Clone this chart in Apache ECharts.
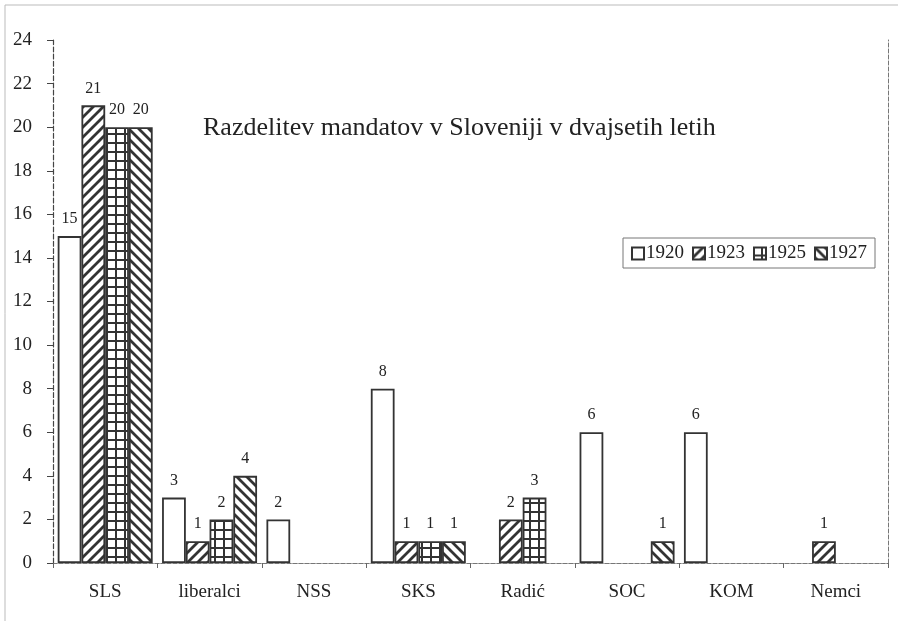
<!DOCTYPE html>
<html>
<head>
<meta charset="utf-8">
<script src="https://cdn.jsdelivr.net/npm/echarts@6/dist/echarts.min.js"></script>
<style>
  html, body { margin: 0; padding: 0; background: #fff; }
  #chart { width: 898px; height: 621px; }
</style>
</head>
<body>
<div id="chart"></div>
<script>
// stranke (kategorije)
const parties = ["SLS", "liberalci", "NSS", "SKS", "Radić", "SOC", "KOM", "Nemci"];
const years = ["1920", "1923", "1925", "1927"];

// mandati po letih
const seats1920 = [15, 3, 2, 8, 0, 6, 6, 0];
const seats1923 = [21, 1, 0, 1, 2, 0, 0, 1];
const seats1925 = [20, 2, 0, 1, 3, 0, 0, 0];
const seats1927 = [20, 4, 0, 1, 0, 1, 0, 0];

const yTicks = [0, 2, 4, 6, 8, 10, 12, 14, 16, 18, 20, 22, 24];

const INK = "#333";
const FONT = "Liberation Serif";

// vzorci za polnilo stolpcev
const makePattern = (kind) => {
  const s = kind === "grid" ? 9 : 10;
  const c = document.createElement("canvas");
  c.width = s;
  c.height = s;
  const ctx = c.getContext("2d");
  ctx.fillStyle = "#fff";
  ctx.fillRect(0, 0, s, s);
  ctx.strokeStyle = INK;
  ctx.lineWidth = 2.8;
  ctx.beginPath();
  if (kind === "slash") {
    ctx.moveTo(-2, s + 2); ctx.lineTo(s + 2, -2);
    ctx.moveTo(-3, 3); ctx.lineTo(3, -3);
    ctx.moveTo(s - 3, s + 3); ctx.lineTo(s + 3, s - 3);
  } else if (kind === "back") {
    ctx.moveTo(-2, -2); ctx.lineTo(s + 2, s + 2);
    ctx.moveTo(s - 3, -3); ctx.lineTo(s + 3, 3);
    ctx.moveTo(-3, s - 3); ctx.lineTo(3, s + 3);
  } else if (kind === "grid") {
    ctx.lineWidth = 2;
    ctx.moveTo(0, s - 1); ctx.lineTo(s, s - 1);
    ctx.moveTo(s - 1, 0); ctx.lineTo(s - 1, s);
  }
  ctx.stroke();
  return { image: c, repeat: "repeat" };
};

const fills = ["#fff", makePattern("slash"), makePattern("grid"), makePattern("back")];
const seriesData = [seats1920, seats1923, seats1925, seats1927];

const chart = echarts.init(document.getElementById("chart"));

const option = {
  backgroundColor: "#fff",
  animation: false,
  textStyle: { fontFamily: FONT, color: "#222" },
  graphic: [
    {
      type: "rect",
      shape: { x: 5, y: 5, width: 900, height: 640 },
      style: { fill: "none", stroke: "#bbb", lineWidth: 1 },
      silent: true,
    },
    {
      type: "text",
      left: 203,
      top: 115,
      style: {
        text: "Razdelitev mandatov v Sloveniji v dvajsetih letih",
        font: "26px 'Liberation Serif'",
        fill: "#222",
      },
    },
  ],
  legend: {
    data: years,
    left: 623,
    top: 238,
    orient: "horizontal",
    icon: "rect",
    itemWidth: 12,
    itemHeight: 12,
    itemGap: 8,
    padding: [6, 8, 5, 8],
    borderColor: "#777",
    borderWidth: 1,
    textStyle: { fontFamily: FONT, fontSize: 19, color: "#222", padding: [0, 0, 0, -3] },
  },
  grid: { left: 53, right: 10, top: 40, bottom: 58 },
  xAxis: [
    {
      type: "category",
      data: parties,
      axisLine: { lineStyle: { color: "#666", type: "dashed", width: 1 } },
      axisTick: { show: true, length: 5, lineStyle: { color: "#666" } },
      axisLabel: { fontFamily: FONT, fontSize: 19, color: "#222", margin: 20 },
    },
    {
      type: "category",
      position: "top",
      data: parties,
      axisLine: { lineStyle: { color: "#777", type: "dashed", width: 1 } },
      axisTick: { show: false },
      axisLabel: { show: false },
    },
  ],
  yAxis: [
    {
      type: "value",
      min: 0,
      max: 24,
      interval: 2,
      axisLine: { show: true, lineStyle: { color: "#444", type: "dashed", width: 1.2 } },
      axisTick: { show: true, length: 6, lineStyle: { color: "#444" } },
      splitLine: { show: false },
      axisLabel: {
        fontFamily: FONT,
        fontSize: 19,
        color: "#222",
        margin: 21,
        formatter: (v) => (yTicks.includes(v) ? String(v) : ""),
      },
    },
    {
      type: "value",
      position: "right",
      min: 0,
      max: 24,
      interval: 2,
      axisLine: { show: true, lineStyle: { color: "#777", type: "dashed", width: 1 } },
      axisTick: { show: false },
      axisLabel: { show: false },
      splitLine: { show: false },
    },
  ],
  series: years.map((y, i) => ({
    name: y,
    type: "bar",
    xAxisIndex: 0,
    yAxisIndex: 0,
    barGap: "0%",
    barCategoryGap: "9%",
    data: seriesData[i].map((v) => (v === 0 ? null : v)),
    itemStyle: { color: fills[i], borderColor: INK, borderWidth: 1.8 },
    label: {
      show: true,
      position: "top",
      distance: 9,
      fontFamily: FONT,
      fontSize: 16,
      color: "#222",
    },
  })),
};

chart.setOption(option);
window.addEventListener("resize", () => chart.resize());
</script>
</body>
</html>
